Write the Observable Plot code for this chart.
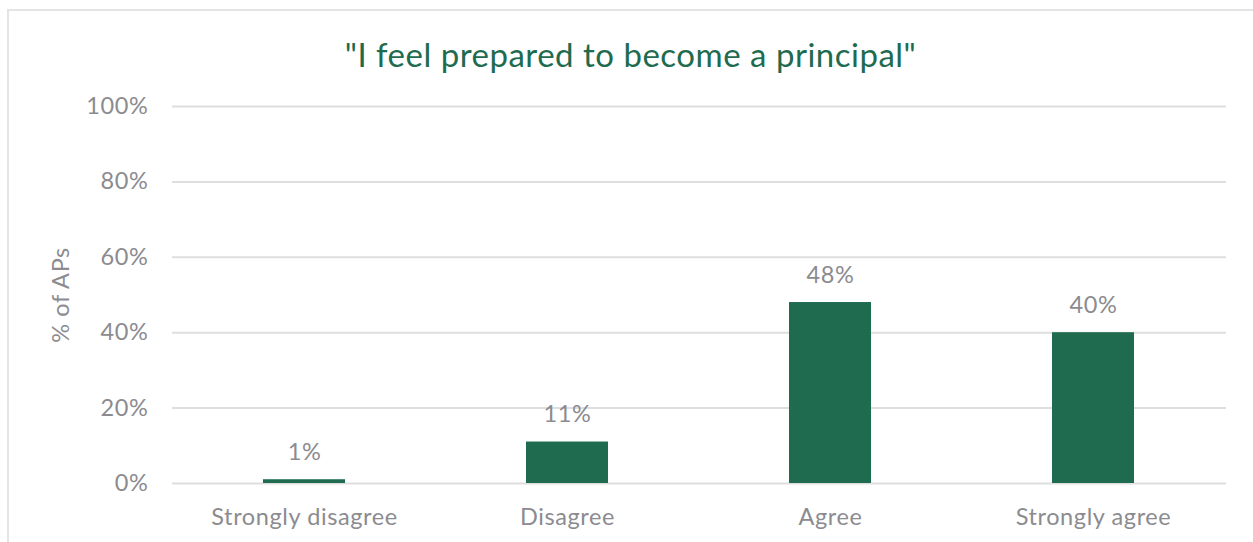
<!DOCTYPE html>
<html><head><meta charset="utf-8">
<script src="https://cdn.jsdelivr.net/npm/d3@7"></script>
<script src="https://cdn.jsdelivr.net/npm/@observablehq/plot@0.6"></script>
<style>
body{margin:0;background:#fff;font-family:Lato,sans-serif;overflow:hidden}
#frame{position:absolute;left:7px;top:9px;width:1270px;height:560px;border:2px solid #e4e4e4;box-sizing:border-box}
#title{position:absolute;left:8px;width:1245px;top:33px;text-align:center;color:#1e6b4f;font-size:33px;line-height:42px;letter-spacing:0.5px}
#chart{position:absolute;left:0;top:80px}
#chart svg text{letter-spacing:0.6px}
</style></head>
<body>
<div id="frame"></div>
<div id="title">"I feel prepared to become a principal"</div>
<div id="chart"></div>
<script>
const categories = ["Strongly disagree", "Disagree", "Agree", "Strongly agree"];
const values = [1, 11, 48, 40];
const yTicks = [0, 20, 40, 60, 80, 100];

const data = categories.map((c, i) => ({category: c, value: values[i]}));
const gray = "#8b8b90";
const plot = Plot.plot({
  width: 1253,
  height: 462,
  marginLeft: 172,
  marginRight: 27,
  marginTop: 26,
  marginBottom: 59,
  style: {fontFamily: "Lato, sans-serif", fontSize: "23.5px", color: gray, background: "transparent"},
  x: {domain: categories, paddingInner: 0.688, paddingOuter: 0.344, label: null},
  y: {domain: [0, 100], ticks: yTicks, label: "% of APs"},
  marks: [
    Plot.gridY(yTicks, {stroke: "#dedede", strokeOpacity: 1, strokeWidth: 2}),
    Plot.axisY(yTicks, {tickSize: 0, tickPadding: 24, tickFormat: d => d + "%", fill: gray,
      label: "% of APs", labelAnchor: "center", labelArrow: "none", labelOffset: 120}),
    Plot.axisX({tickSize: 0, tickPadding: 25, fill: gray, label: null}),
    Plot.barY(data, {x: "category", y: "value", fill: "#1e6b4f"}),
    Plot.text(data, {x: "category", y: "value", text: d => d.value + "%", dy: -20, lineAnchor: "bottom", fill: gray, fontSize: 23.5})
  ]
});
document.getElementById("chart").appendChild(plot);
</script>
</body></html>
